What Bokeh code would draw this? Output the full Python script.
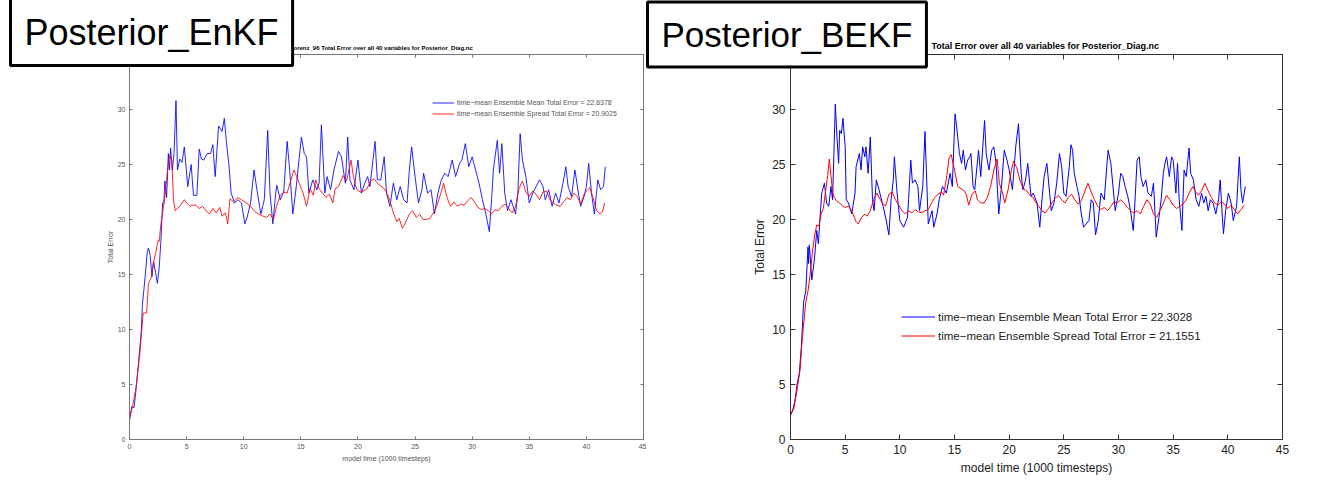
from bokeh.plotting import figure
from bokeh.models import (Range1d, LinearAxis, FixedTicker, Title, Legend, LegendItem,
                          CustomJSTickFormatter)
from bokeh.layouts import row
from bokeh.embed import file_html
from bokeh.resources import INLINE

# ---------------- data ----------------
x_ticks = [0, 5, 10, 15, 20, 25, 30, 35, 40, 45]
y_ticks = [0, 5, 10, 15, 20, 25, 30, 35]

panel_names = ["Posterior_EnKF", "Posterior_BEKF"]
titles = ["orenz_96 Total Error over all 40 variables for Posterior_Diag.nc",
          "Total Error over all 40 variables for Posterior_Diag.nc"]
x_label = "model time (1000 timesteps)"
y_label = "Total Error"
enkf_legend = ["time\u2212mean Ensemble Mean Total Error = 22.6378",
               "time\u2212mean Ensemble Spread Total Error = 20.9025"]
bekf_legend = ["time\u2212mean Ensemble Mean Total Error = 22.3028",
               "time\u2212mean Ensemble Spread Total Error = 21.1551"]

enkf_mean = [(0, 1.7), (0.2, 3.0), (0.4, 2.9), (0.56, 4.4), (0.8, 7.1), (1.03, 9.8), (1.13, 12.3),
             (1.25, 13.5), (1.44, 15.6), (1.56, 17.1), (1.66, 17.4), (1.8, 16.8), (1.97, 14.8),
             (2.1, 16.2), (2.28, 15.2), (2.44, 14.2), (2.6, 15.6), (2.75, 18.1), (2.9, 21.5),
             (3.0, 21.5), (3.1, 23.5), (3.25, 22.0), (3.4, 26.0), (3.5, 24.5), (3.6, 26.5),
             (3.75, 24.5), (3.9, 26.0), (4.07, 30.8), (4.2, 24.5), (4.4, 25.5), (4.6, 25.2),
             (4.8, 26.6), (5.1, 23.0), (5.4, 25.0), (5.6, 22.2), (5.9, 22.2), (6.1, 26.4),
             (6.3, 25.5), (6.5, 25.4), (6.8, 26.0), (7.1, 26.0), (7.3, 26.8), (7.5, 23.9),
             (7.8, 28.5), (8.1, 28.0), (8.3, 29.2), (8.5, 26.9), (8.7, 25.0), (8.9, 22.4),
             (9.2, 21.5), (9.5, 21.8), (9.8, 21.5), (10.1, 19.6), (10.3, 20.2), (10.6, 21.5),
             (10.9, 24.5), (11.2, 22.4), (11.5, 20.5), (11.8, 21.8), (12.1, 28.1), (12.3, 22.4),
             (12.55, 19.6), (12.8, 22.4), (12.9, 23.1), (13.2, 21.8), (13.5, 22.5), (13.8, 27.1),
             (14.0, 24.8), (14.3, 20.5), (14.6, 23.0), (15.05, 27.5), (15.3, 26.0), (15.5, 25.7),
             (15.7, 22.4), (16.05, 23.6), (16.4, 22.7), (16.6, 23.3), (16.8, 28.6), (17.1, 22.4),
             (17.3, 23.9), (17.6, 22.7), (17.9, 24.5), (18.3, 26.2), (18.55, 25.7), (18.9, 23.3),
             (19.1, 27.5), (19.3, 23.6), (19.65, 22.7), (20.0, 25.4), (20.3, 22.4), (20.6, 23.3),
             (20.85, 23.9), (21.05, 23.0), (21.5, 27.1), (21.7, 23.6), (22.0, 23.6), (22.3, 25.7),
             (22.5, 22.4), (22.8, 21.2), (23.1, 23.3), (23.4, 21.8), (23.7, 23.0), (24.0, 21.8),
             (24.3, 21.5), (24.5, 24.5), (24.7, 26.6), (25.0, 23.9), (25.3, 21.5), (25.6, 22.7),
             (25.75, 24.2), (26.1, 22.4), (26.4, 22.7), (26.7, 20.5), (27.0, 22.4), (27.3, 23.6),
             (27.6, 24.2), (27.9, 23.9), (28.25, 25.4), (28.55, 23.9), (28.9, 25.1), (29.1, 25.4),
             (29.4, 26.9), (29.7, 24.8), (30.0, 25.7), (30.3, 24.5), (30.6, 23.3), (30.9, 21.8),
             (31.2, 20.5), (31.5, 18.9), (31.7, 21.8), (31.85, 24.5), (32.2, 27.2), (32.4, 24.2),
             (32.6, 26.9), (32.85, 22.4), (33.1, 20.8), (33.4, 21.8), (33.8, 20.5), (34.0, 22.4),
             (34.2, 27.8), (34.4, 25.4), (34.7, 23.9), (35.0, 21.5), (35.3, 22.4), (35.6, 23.0),
             (35.9, 23.6), (36.2, 23.0), (36.4, 21.8), (36.7, 22.7), (37.0, 21.2), (37.3, 22.4),
             (37.6, 21.5), (37.95, 23.3), (38.2, 24.8), (38.4, 23.0), (38.7, 22.1), (39.0, 24.5),
             (39.3, 22.4), (39.5, 21.2), (39.8, 22.1), (40.0, 23.0), (40.2, 25.1), (40.45, 22.4),
             (40.7, 20.5), (41.0, 23.6), (41.25, 22.7), (41.5, 23.0), (41.65, 24.8)]

enkf_spread = [(0, 2.0), (0.25, 2.9), (0.56, 4.7), (0.9, 7.7), (1.03, 9.4), (1.2, 11.5), (1.5, 11.5),
               (1.66, 14.2), (1.9, 14.7), (2.07, 15.9), (2.3, 17.0), (2.5, 18.1), (2.6, 18.0),
               (2.75, 19.6), (3.07, 21.8), (3.3, 24.2), (3.5, 25.8), (3.7, 25.4), (3.85, 21.8),
               (4.0, 20.8), (4.4, 21.2), (4.8, 21.8), (5.0, 21.5), (5.3, 21.2), (5.5, 21.3),
               (5.8, 21.3), (6.1, 21.0), (6.4, 21.2), (6.7, 20.8), (7.0, 20.5), (7.3, 21.0),
               (7.6, 20.6), (7.9, 21.1), (8.1, 20.3), (8.4, 20.6), (8.6, 19.6), (8.8, 21.9),
               (9.1, 21.6), (9.5, 22.0), (9.8, 21.8), (10.1, 21.6), (10.5, 21.3), (11.0, 20.7),
               (11.3, 20.5), (11.7, 20.3), (12.0, 20.2), (12.3, 20.5), (12.6, 20.0), (12.9, 21.3),
               (13.2, 22.2), (13.5, 22.5), (13.8, 22.4), (14.1, 23.5), (14.4, 24.5), (14.6, 24.0),
               (14.9, 23.2), (15.2, 22.4), (15.5, 21.2), (15.8, 22.8), (16.1, 22.2), (16.3, 23.6),
               (16.6, 22.8), (16.9, 22.4), (17.2, 22.0), (17.5, 22.3), (17.8, 21.5), (18.0, 22.8),
               (18.3, 23.0), (18.7, 24.0), (19.0, 23.5), (19.4, 25.4), (19.6, 23.9), (19.9, 22.7),
               (20.2, 22.5), (20.5, 22.6), (20.8, 22.8), (21.1, 23.5), (21.4, 23.7), (21.8, 23.2),
               (22.2, 22.9), (22.5, 22.5), (22.8, 21.7), (23.1, 20.6), (23.4, 19.8), (23.6, 20.1),
               (23.9, 19.2), (24.2, 19.8), (24.5, 20.5), (24.8, 20.8), (25.1, 20.2), (25.4, 20.5),
               (25.7, 20.0), (26.0, 20.0), (26.3, 20.1), (26.6, 20.6), (26.9, 21.2), (27.2, 22.2),
               (27.5, 23.3), (27.8, 22.0), (28.1, 21.2), (28.4, 21.6), (28.7, 21.2), (29.0, 21.4),
               (29.3, 21.3), (29.6, 21.7), (29.9, 22.0), (30.2, 21.6), (30.5, 21.1), (30.8, 20.9),
               (31.1, 21.0), (31.4, 20.8), (31.7, 20.5), (32.0, 20.9), (32.3, 20.8), (32.6, 21.2),
               (32.9, 21.4), (33.2, 21.0), (33.5, 20.6), (33.8, 21.2), (34.1, 22.8), (34.4, 23.5),
               (34.7, 22.5), (35.0, 22.1), (35.3, 22.6), (35.6, 22.3), (35.9, 21.8), (36.2, 22.5),
               (36.5, 22.6), (36.8, 21.8), (37.1, 21.5), (37.4, 21.3), (37.7, 21.2), (38.0, 21.6),
               (38.3, 22.0), (38.6, 21.8), (38.9, 22.4), (39.2, 22.1), (39.5, 21.4), (39.8, 22.3),
               (40.1, 22.7), (40.3, 22.9), (40.6, 21.9), (40.9, 20.8), (41.2, 20.5), (41.4, 20.7),
               (41.6, 21.5)]

bekf_mean = [(0, 2.2), (0.2, 2.7), (0.4, 3.5), (0.6, 5.0), (0.8, 6.0), (1.0, 8.5), (1.1, 10.5),
             (1.2, 12.5), (1.4, 13.5), (1.5, 15.5), (1.6, 17.5), (1.65, 16.0), (1.72, 17.7),
             (1.95, 14.5), (2.2, 16.5), (2.4, 19.0), (2.55, 17.8), (2.7, 20.2), (2.86, 22.4),
             (3.1, 23.3), (3.3, 21.5), (3.5, 21.2), (3.7, 23.0), (3.85, 21.8), (4.1, 30.5),
             (4.2, 28.4), (4.4, 25.1), (4.5, 28.1), (4.65, 27.8), (4.8, 29.2), (5.0, 26.6),
             (5.1, 21.8), (5.3, 21.5), (5.6, 20.5), (5.9, 22.4), (6.0, 24.8), (6.3, 26.0),
             (6.45, 24.5), (6.6, 26.6), (6.8, 25.7), (6.9, 26.6), (7.1, 24.2), (7.3, 27.5),
             (7.5, 21.8), (7.65, 20.8), (7.85, 23.6), (8.1, 22.7), (8.4, 21.5), (8.7, 20.2),
             (9.0, 18.6), (9.2, 21.8), (9.4, 23.6), (9.5, 25.7), (9.75, 22.4), (10.0, 19.9),
             (10.35, 19.3), (10.7, 20.2), (10.8, 21.8), (11.0, 25.4), (11.15, 23.3), (11.4, 23.6),
             (11.65, 23.0), (11.8, 20.8), (12.1, 23.0), (12.3, 28.0), (12.5, 22.4), (12.6, 19.6),
             (12.95, 20.8), (13.1, 19.3), (13.4, 20.5), (13.6, 21.8), (13.9, 23.0), (14.25, 22.4),
             (14.6, 24.2), (14.8, 23.0), (15.05, 29.6), (15.2, 28.4), (15.45, 26.0), (15.65, 25.1),
             (15.8, 26.3), (16.0, 24.5), (16.2, 25.4), (16.4, 25.7), (16.5, 26.0), (16.7, 23.0),
             (16.85, 22.7), (17.2, 26.3), (17.4, 23.9), (17.75, 29.0), (17.9, 26.0), (18.15, 24.5),
             (18.4, 26.3), (18.6, 26.6), (18.8, 25.1), (19.05, 20.5), (19.3, 23.0), (19.55, 26.3),
             (19.8, 25.4), (20.0, 24.5), (20.3, 22.7), (20.6, 26.6), (20.85, 28.7), (21.1, 24.2),
             (21.25, 22.7), (21.5, 23.6), (21.7, 25.1), (22.0, 22.1), (22.2, 22.4), (22.55, 21.5),
             (22.8, 19.3), (23.0, 21.8), (23.2, 23.9), (23.45, 25.1), (23.7, 22.4), (23.85, 20.8),
             (24.1, 21.5), (24.35, 23.3), (24.6, 26.0), (24.8, 24.8), (25.0, 22.4), (25.2, 22.1),
             (25.5, 24.8), (25.65, 26.8), (25.8, 26.3), (25.95, 24.2), (26.2, 23.0), (26.4, 22.1),
             (26.6, 20.5), (26.8, 19.3), (27.05, 19.6), (27.3, 19.9), (27.5, 21.8), (27.7, 21.5),
             (27.9, 18.6), (28.15, 19.9), (28.4, 22.4), (28.7, 21.8), (28.9, 24.5), (29.05, 26.3),
             (29.3, 25.1), (29.55, 22.4), (29.7, 20.8), (30.0, 22.4), (30.2, 24.2), (30.4, 23.9),
             (30.6, 23.0), (30.85, 22.1), (31.1, 20.8), (31.35, 19.0), (31.5, 21.5), (31.7, 25.4),
             (31.9, 25.7), (32.05, 23.9), (32.25, 23.0), (32.5, 23.6), (32.7, 22.4), (33.0, 22.1),
             (33.2, 23.3), (33.45, 18.4), (33.7, 20.2), (33.9, 21.8), (34.1, 24.2), (34.25, 25.1),
             (34.4, 25.7), (34.65, 23.9), (34.85, 25.7), (35.0, 25.4), (35.25, 22.4), (35.4, 25.1),
             (35.55, 21.8), (35.8, 19.0), (36.0, 24.5), (36.2, 23.9), (36.45, 26.5), (36.6, 24.2),
             (36.85, 23.6), (37.1, 21.8), (37.35, 21.2), (37.6, 22.4), (37.8, 21.5), (38.0, 22.1),
             (38.2, 20.8), (38.4, 21.8), (38.65, 21.5), (38.9, 20.5), (39.15, 21.8), (39.3, 23.6),
             (39.5, 20.2), (39.6, 18.7), (39.8, 20.8), (40.05, 22.4), (40.3, 21.5), (40.5, 19.9),
             (40.8, 21.2), (41.05, 25.7), (41.2, 22.7), (41.35, 21.5), (41.6, 23.0)]

bekf_spread = [(0, 2.2), (0.3, 2.8), (0.6, 4.5), (0.9, 6.5), (1.0, 8.2), (1.2, 10.5), (1.4, 12.5),
               (1.6, 13.5), (1.8, 15.0), (2.0, 17.0), (2.2, 18.5), (2.4, 19.5), (2.6, 19.4),
               (2.8, 20.5), (3.0, 21.0), (3.2, 22.5), (3.4, 24.0), (3.55, 25.5), (3.7, 24.0),
               (3.85, 22.5), (4.0, 22.0), (4.2, 21.7), (4.5, 21.5), (4.8, 21.2), (5.0, 21.1),
               (5.3, 21.2), (5.6, 20.8), (5.8, 20.3), (6.0, 19.8), (6.2, 19.6), (6.5, 20.2),
               (6.8, 20.5), (7.0, 20.3), (7.3, 20.8), (7.6, 21.8), (7.9, 22.4), (8.1, 22.0),
               (8.4, 21.5), (8.7, 21.2), (9.0, 22.3), (9.3, 22.5), (9.6, 21.8), (9.9, 21.3),
               (10.2, 20.8), (10.5, 20.5), (10.8, 20.8), (11.1, 20.6), (11.4, 20.9), (11.7, 20.7),
               (12.0, 20.6), (12.3, 20.8), (12.6, 20.9), (12.9, 21.5), (13.2, 22.0), (13.5, 22.3),
               (13.8, 22.5), (14.0, 22.2), (14.3, 24.0), (14.5, 25.6), (14.7, 25.9), (15.0, 24.5),
               (15.3, 23.0), (15.6, 22.8), (15.9, 22.6), (16.1, 22.2), (16.3, 21.3), (16.6, 22.3),
               (16.9, 22.6), (17.1, 21.8), (17.4, 21.5), (17.7, 21.5), (18.0, 22.0), (18.3, 23.0),
               (18.6, 24.5), (18.9, 25.5), (19.1, 23.3), (19.4, 22.4), (19.6, 21.5), (19.9, 22.7),
               (20.2, 24.5), (20.4, 25.3), (20.7, 24.7), (21.0, 23.5), (21.3, 22.8), (21.6, 22.6),
               (21.9, 22.2), (22.2, 22.0), (22.4, 21.6), (22.7, 21.2), (23.0, 20.8), (23.3, 20.6),
               (23.6, 21.0), (23.9, 21.5), (24.2, 21.9), (24.5, 22.2), (24.8, 21.8), (25.1, 21.5),
               (25.4, 22.0), (25.7, 22.3), (26.0, 21.8), (26.3, 21.4), (26.6, 21.7), (26.9, 22.5),
               (27.2, 23.3), (27.5, 22.5), (27.8, 21.8), (28.1, 21.2), (28.4, 20.9), (28.7, 21.1),
               (29.0, 20.8), (29.3, 21.2), (29.6, 21.6), (29.9, 21.5), (30.2, 21.8), (30.5, 21.5),
               (30.8, 21.1), (31.1, 20.8), (31.4, 20.6), (31.7, 20.8), (32.0, 20.5), (32.3, 21.2),
               (32.6, 21.8), (32.9, 21.4), (33.2, 20.5), (33.5, 20.2), (33.8, 20.8), (34.1, 21.5),
               (34.4, 22.2), (34.7, 21.8), (35.0, 21.3), (35.3, 21.0), (35.6, 21.2), (35.9, 21.4),
               (36.2, 21.8), (36.5, 22.5), (36.8, 23.0), (37.0, 22.6), (37.3, 22.2), (37.6, 22.6),
               (37.9, 23.3), (38.2, 22.6), (38.5, 22.0), (38.8, 21.5), (39.1, 21.3), (39.4, 21.6),
               (39.7, 21.4), (40.0, 21.0), (40.3, 21.3), (40.6, 20.9), (40.9, 20.5), (41.2, 20.9),
               (41.5, 21.3)]


def build(width, bl, br, bt, bb, mean, spread, legend_labels, name, title, st):
    p = figure(width=width, height=492, output_backend="svg", toolbar_location=None,
               x_range=Range1d(0, 45), y_range=Range1d(0, 35), title=None,
               min_border_left=bl, min_border_right=br, min_border_top=bt, min_border_bottom=bb,
               background_fill_color="white", border_fill_color="white")
    p.grid.visible = False
    p.outline_line_color = st["axis"]
    p.outline_line_width = 1

    xb = p.below[0]
    yl = p.left[0]
    xb.ticker = FixedTicker(ticks=x_ticks)
    yl.ticker = FixedTicker(ticks=y_ticks)
    blank = CustomJSTickFormatter(code="return ''")
    xa = LinearAxis(ticker=FixedTicker(ticks=x_ticks), formatter=blank)
    yr = LinearAxis(ticker=FixedTicker(ticks=y_ticks), formatter=blank)
    p.add_layout(xa, "above")
    p.add_layout(yr, "right")
    for ax in (xb, yl, xa, yr):
        ax.major_tick_in = st["tick"]
        ax.major_tick_out = 0
        ax.minor_tick_in = 0
        ax.minor_tick_out = 0
        ax.axis_line_color = st["axis"]
        ax.major_tick_line_color = st["axis"]
        ax.major_label_text_font = "Liberation Sans"
        ax.major_label_text_font_size = st["tick_font"]
        ax.major_label_text_color = st["tick_color"]
        ax.major_label_standoff = st["tick_standoff"]
        ax.axis_label_text_font = "Liberation Sans"
        ax.axis_label_text_font_style = "normal"
        ax.axis_label_text_font_size = st["label_font"]
        ax.axis_label_text_color = st["tick_color"]
    for ax in (xa, yr):
        ax.major_label_standoff = 0
    xb.axis_label = x_label
    xb.axis_label_standoff = st["xlabel_standoff"]
    yl.axis_label = y_label
    yl.axis_label_standoff = st["ylabel_standoff"]

    mx, my = zip(*mean)
    sx, sy = zip(*spread)
    rm = p.line(list(mx), list(my), line_color="#0000ff", line_width=1, line_alpha=st["alpha"])
    rs = p.line(list(sx), list(sy), line_color="#ff0000", line_width=1, line_alpha=st["alpha"])

    leg = Legend(items=[LegendItem(label=legend_labels[0], renderers=[rm]),
                        LegendItem(label=legend_labels[1], renderers=[rs])],
                 location=st["leg_loc"], border_line_color=None, background_fill_alpha=0,
                 padding=0, margin=0, spacing=st["leg_spacing"], glyph_width=st["leg_gw"],
                 glyph_height=st["leg_h"], label_height=st["leg_h"], label_standoff=3,
                 label_text_font="Liberation Sans", label_text_font_size=st["leg_font"],
                 label_text_color=st["tick_color"])
    p.add_layout(leg)

    # chart title (nearest the frame, after the top axis)
    p.add_layout(Title(text=title, align="left", offset=st["title_x"], standoff=st["title_standoff"],
                       text_font="Liberation Sans", text_font_style="bold",
                       text_font_size=st["title_font"], text_color="black"), "above")
    # boxed panel name (outermost, pulled down over the frame corner)
    p.add_layout(Title(text=name, align="left", offset=st["box_x"], standoff=st["box_standoff"],
                       text_font="Liberation Sans", text_font_style="normal",
                       text_font_size=st["box_font"], text_color="black",
                       background_fill_color="white", border_line_color="black",
                       border_line_width=3, padding=(14, 13)), "above")
    return p


left_style = dict(axis="#777777", tick=3, tick_font="7px", tick_color="#555555", tick_standoff=4,
                  label_font="7px", xlabel_standoff=3, ylabel_standoff=1, alpha=0.85,
                  leg_loc=(303, 320), leg_spacing=0, leg_gw=22, leg_h=11, leg_font="7px",
                  title_x=164, title_standoff=7, title_font="6px", box_x=-119, box_standoff=-52,
                  box_font="36px")
right_style = dict(axis="#333333", tick=5, tick_font="12px", tick_color="#222222", tick_standoff=5,
                   label_font="12px", xlabel_standoff=4, ylabel_standoff=2, alpha=1.0,
                   leg_loc=(111, 97), leg_spacing=6, leg_gw=34, leg_h=13, leg_font="11.5px",
                   title_x=141, title_standoff=7, title_font="9px", box_x=-143, box_standoff=-63,
                   box_font="35px")

p1 = build(646, 129, 3, 54, 53, enkf_mean, enkf_spread, enkf_legend, panel_names[0], titles[0], left_style)
p2 = build(698, 144, 62, 54, 52, bekf_mean, bekf_spread, bekf_legend, panel_names[1], titles[1], right_style)

layout = row(p1, p2, spacing=0)
open("out.html", "w").write(file_html(layout, INLINE))
